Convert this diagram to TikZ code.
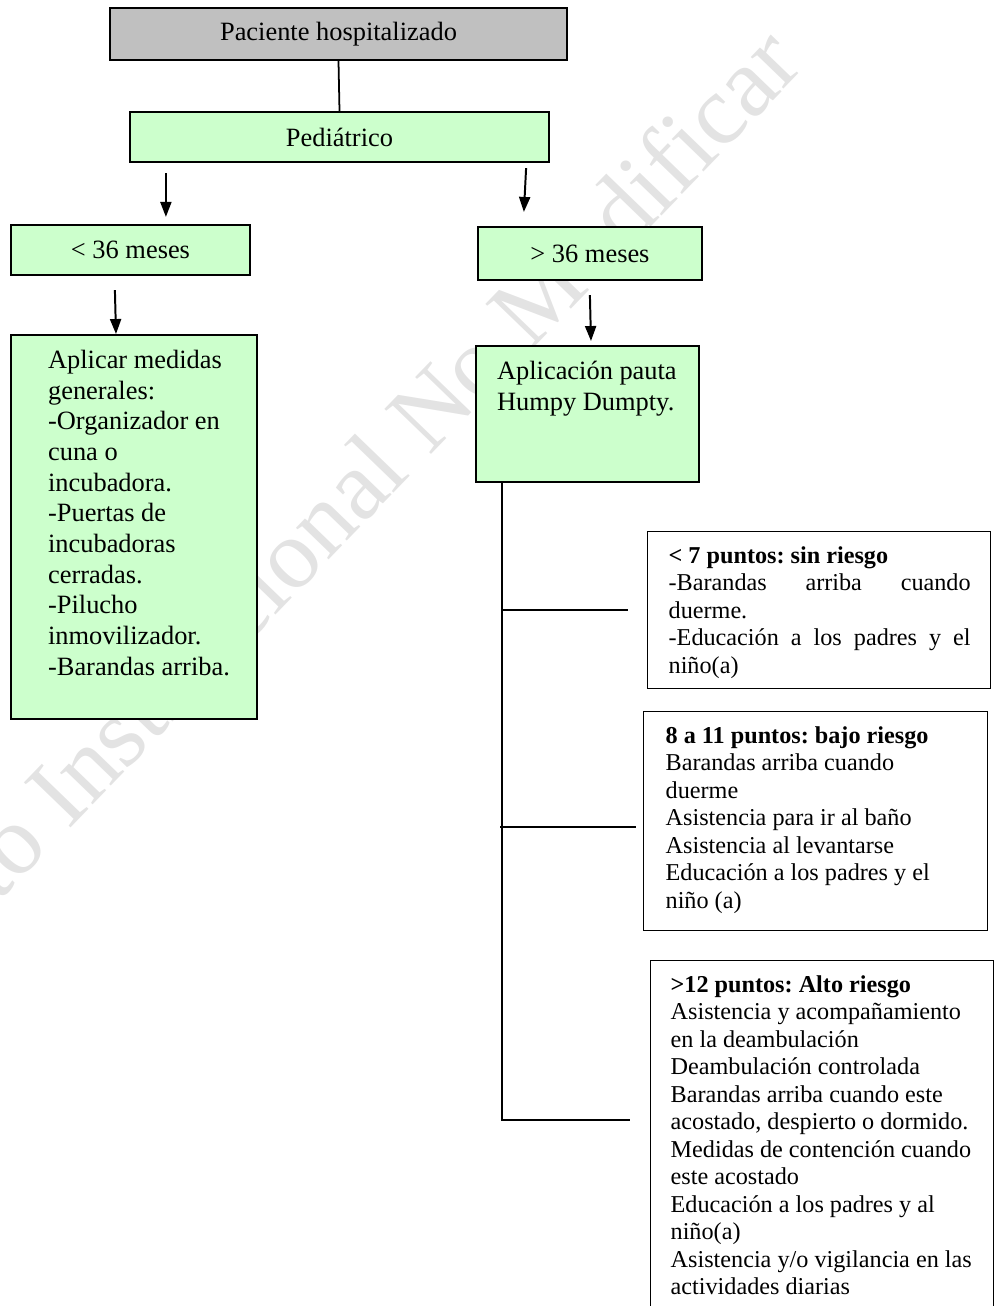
\documentclass[tikz,border=0pt]{standalone}
\usepackage{fontspec}
\setmainfont{Liberation Serif}
\usetikzlibrary{arrows.meta,calc,positioning}
\definecolor{Stone}{HTML}{C0C0C0}
\definecolor{Mint}{HTML}{CCFFCC}
\definecolor{Ghost}{HTML}{E3E3E3}
\newdimen\pxu \pxu=0.4545pt
\newcommand{\lgfont}{\fontsize{12}{13.95}\selectfont}
\newcommand{\smfont}{\fontsize{11}{12.5}\selectfont}
% fixed-size body: height, width, left skip, right skip, text
\newcommand{\boxtext}[5]{\parbox[t][#1\pxu][t]{#2\pxu}{\leftskip=#3\pxu\rightskip=#4\relax #5}}
\hyphenpenalty=10000
\exhyphenpenalty=10000
\frenchspacing

\begin{document}
\begin{tikzpicture}[x=\pxu,y=-\pxu,
    topbox/.style={draw,line width=1pt,fill=Stone,font=\lgfont},
    greenbox/.style={draw,line width=1pt,fill=Mint,font=\lgfont},
    whitebox/.style={draw,line width=0.6pt,fill=white},
    tall/.style={anchor=north west,inner xsep=10\pxu,inner ysep=15\pxu},
    link/.style={line width=0.8pt},
    arr/.style={line width=0.9pt,-{Triangle[length=6.8pt,width=5pt]}}]
  \useasboundingbox (0,0) rectangle (997,1306);
  \clip (0,0) rectangle (997,1306);

  % watermark behind the chart
  \node[font=\fontsize{45}{54}\selectfont,text=Ghost,rotate=46,inner sep=0]
    (mark) at (243,600) {Documento Institucional No Modificar};

  \node[topbox,minimum width=457\pxu,minimum height=52\pxu]
    (pac) at (338.5,34) {Paciente hospitalizado};
  \node[greenbox,minimum width=419\pxu,minimum height=50\pxu]
    (ped) at (339.5,137) {Pediátrico};
  \node[greenbox,minimum width=239\pxu,minimum height=50\pxu]
    (young) at (130.5,250) {< 36 meses};
  \node[greenbox,minimum width=224\pxu,minimum height=53\pxu]
    (old) at (590,253.5) {> 36 meses};

  \node[greenbox,tall] (rules) at (10,334)
    {\boxtext{354}{226}{27}{8\pxu plus 1fil}{\lgfont Aplicar medidas generales:\par
     -Organizador en cuna o incubadora.\par
     -Puertas de incubadoras cerradas.\par
     -Pilucho inmovilizador.\par
     -Barandas arriba.}};
  \node[greenbox,tall] (humpy) at (475,345)
    {\boxtext{106}{203}{11}{0pt plus 1fil}{\lgfont Aplicación pauta Humpy Dumpty.}};

  \node[whitebox,tall] (low) at (647,531)
    {\boxtext{127}{323}{11}{10\pxu}{\smfont\textbf{< 7 puntos: sin riesgo}\par
     -Barandas arriba cuando duerme.\par
     -Educación a los padres y el niño(a)}};
  \node[whitebox,tall] (mid) at (643,711)
    {\boxtext{189}{324}{12}{12\pxu plus 1fil}{\smfont\textbf{8 a 11 puntos: bajo riesgo}\par
     Barandas arriba cuando duerme\par
     Asistencia para ir al baño\par
     Asistencia al levantarse\par
     Educación a los padres y el niño (a)}};
  \node[whitebox,tall] (high) at (650,960)
    {\boxtext{340}{323}{10}{0pt plus 1fil}{\smfont\textbf{>12 puntos: Alto riesgo}\par
     Asistencia y acompañamiento en la deambulación\par
     Deambulación controlada\par
     Barandas arriba cuando este acostado, despierto o dormido.\par
     Medidas de contención cuando este acostado\par
     Educación a los padres y al niño(a)\par
     Asistencia y/o vigilancia en las actividades diarias}};

  \draw[link] (pac.south) -- (ped.north);
  \draw[arr] ([shift={(37,10)}]ped.south west) -- ([shift={(156,-7)}]young.north west);
  \draw[arr] ([shift={(-24,5)}]ped.south east) -- ([shift={(47,-14)}]old.north west);
  \draw[arr] ([shift={(105,14)}]young.south west) -- ([shift={(106,0)}]rules.north west);
  \draw[arr] ([shift={(113,14)}]old.south west) -- ([shift={(116,-4)}]humpy.north west);

  % score branches
  \draw[link] ([shift={(27,0)}]humpy.south west) coordinate (trunk)
    |- ([shift={(-20,160)}]high.north west);
  \draw[link] (trunk |- low.west) -- ([shift={(-19,0)}]low.west);
  \draw[link] ($(trunk |- mid.west)+(-2,6)$) -- ([shift={(-7,6)}]mid.west);
\end{tikzpicture}
\end{document}
